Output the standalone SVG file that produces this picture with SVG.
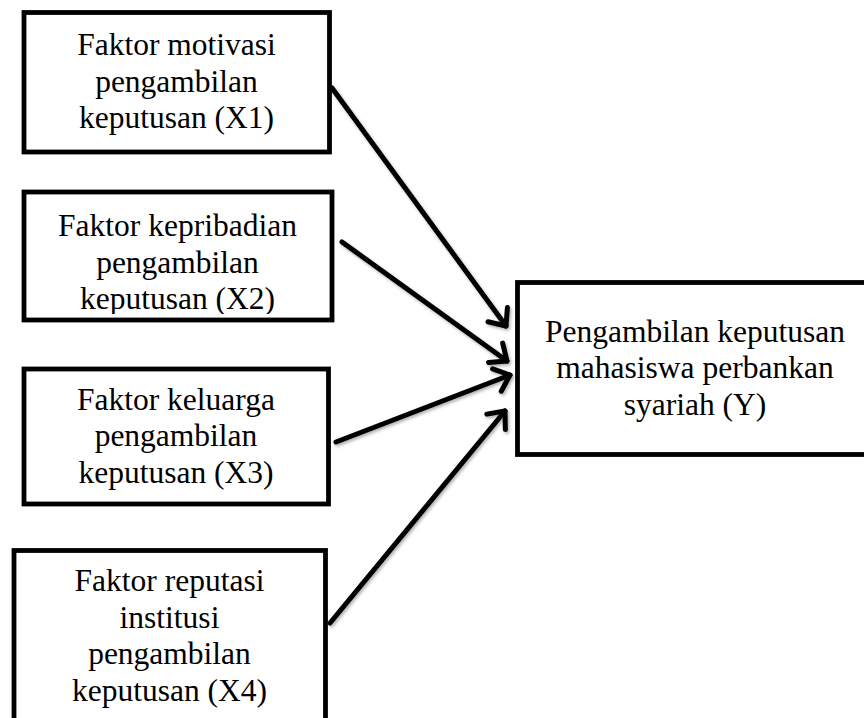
<svg xmlns="http://www.w3.org/2000/svg" width="864" height="718" viewBox="0 0 864 718">
<style>
.box{fill:#fff;stroke:#000;stroke-width:4.8;stroke-linejoin:miter}
.t{font-family:"Liberation Serif","Times New Roman",serif;font-size:31.5px;fill:#000;text-anchor:middle}
.con{stroke:#000;stroke-width:5;fill:none;stroke-linecap:round}
</style>
<defs>
<marker id="ah" markerUnits="userSpaceOnUse" markerWidth="40" markerHeight="40" viewBox="-20 -20 40 40" refX="0" refY="0" orient="auto" overflow="visible">
<path d="M-14,-12 L0,0 L-14,12" fill="none" stroke="#000" stroke-width="5" stroke-linecap="round" stroke-linejoin="round"/>
</marker>
<filter id="sh" x="-20%" y="-20%" width="140%" height="140%">
<feDropShadow dx="1.5" dy="2" stdDeviation="1.5" flood-color="#000" flood-opacity="0.3"/>
</filter>
<clipPath id="c2"><rect x="24" y="192" width="308" height="122"/></clipPath>
</defs>
<rect width="864" height="718" fill="#fff"/>
<g id="x1">
<rect class="box" x="24" y="12.5" width="305.5" height="139.5"/>
<text class="t" x="176.5" y="55">Faktor motivasi</text>
<text class="t" x="176.5" y="91.5">pengambilan</text>
<text class="t" x="176.5" y="128">keputusan (X1)</text>
</g>
<g id="x2">
<rect class="box" x="24" y="192" width="308" height="128"/>
<g clip-path="url(#c2)">
<text class="t" x="177.5" y="236">Faktor kepribadian</text>
<text class="t" x="177.5" y="272.5">pengambilan</text>
<text class="t" x="177.5" y="309">keputusan (X2)</text>
</g>
</g>
<g id="x3">
<rect class="box" x="24" y="369" width="304.5" height="135"/>
<text class="t" x="176" y="409.5">Faktor keluarga</text>
<text class="t" x="176" y="446">pengambilan</text>
<text class="t" x="176" y="482.5">keputusan (X3)</text>
</g>
<g id="x4">
<rect class="box" x="14" y="550.5" width="311.5" height="200"/>
<text class="t" x="169.5" y="591">Faktor reputasi</text>
<text class="t" x="169.5" y="627.5">institusi</text>
<text class="t" x="169.5" y="664">pengambilan</text>
<text class="t" x="169.5" y="700.5">keputusan (X4)</text>
</g>
<g id="y">
<rect class="box" x="517.5" y="282.5" width="357" height="172"/>
<text class="t" x="695" y="341.5">Pengambilan keputusan</text>
<text class="t" x="695" y="378">mahasiswa perbankan</text>
<text class="t" x="695" y="414.5">syariah (Y)</text>
</g>
<g id="connectors" filter="url(#sh)">
<line class="con" x1="332" y1="88" x2="506" y2="326" marker-end="url(#ah)"/>
<line class="con" x1="342" y1="242" x2="507" y2="361" marker-end="url(#ah)"/>
<line class="con" x1="336" y1="442" x2="510" y2="375" marker-end="url(#ah)"/>
<line class="con" x1="330" y1="623" x2="505" y2="411" marker-end="url(#ah)"/>
</g>
</svg>
